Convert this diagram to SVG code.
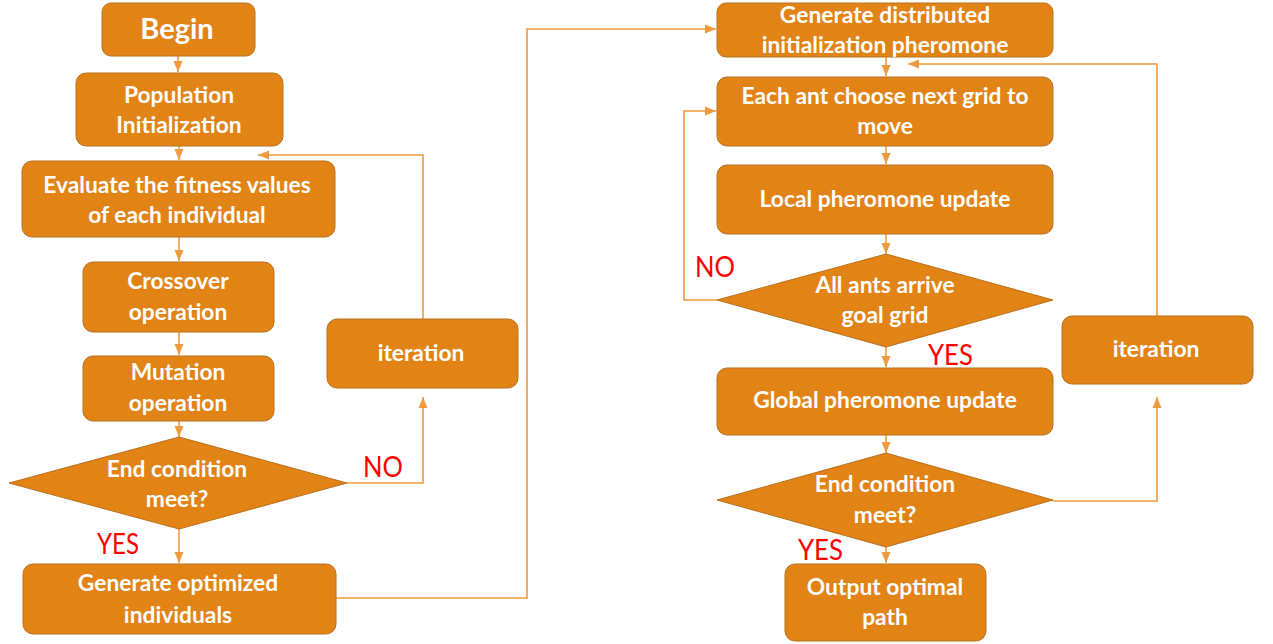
<svg xmlns="http://www.w3.org/2000/svg" width="1273" height="644" viewBox="0 0 1273 644">
  <style>
    .box { fill: #E28316; stroke: #B8701C; stroke-width: 1; }
    .lbl { font-family: Lato, "Open Sans", sans-serif; font-weight: bold; font-size: 22.8px; fill: #FFFFFF; text-anchor: middle; }
    .big { font-size: 29px; }
    .tag { font-family: Lato, "Liberation Sans", sans-serif; font-size: 29px; fill: #FF0000; }
    .wire { fill: none; stroke: #EE9A3E; stroke-width: 1.6; }
  </style>
  <defs>
    <marker id="arrow" markerUnits="userSpaceOnUse" markerWidth="12" markerHeight="12" viewBox="0 0 12 12" refX="11" refY="6" orient="auto">
      <path d="M0,1.5 L11,6 L0,10.5 Z" fill="#EE9A3E"/>
    </marker>
  </defs>
  <rect width="1273" height="644" fill="#FFFFFF"/>

  <!-- connectors -->
  <g id="connectors" class="wire">
    <path d="M178,56 V72" marker-end="url(#arrow)"/>
    <path d="M179,146 V160" marker-end="url(#arrow)"/>
    <path d="M179,237 V261" marker-end="url(#arrow)"/>
    <path d="M179,332 V355" marker-end="url(#arrow)"/>
    <path d="M179,421 V437" marker-end="url(#arrow)"/>
    <path d="M179,529 V563" marker-end="url(#arrow)"/>
    <path d="M347,483 H423 V397" marker-end="url(#arrow)"/>
    <path d="M423,319 V155 H258" marker-end="url(#arrow)"/>
    <path d="M336,598 H527 V29 H716" marker-end="url(#arrow)"/>
    <path d="M886,57 V76" marker-end="url(#arrow)"/>
    <path d="M886,146 V164" marker-end="url(#arrow)"/>
    <path d="M886,234 V254" marker-end="url(#arrow)"/>
    <path d="M717,300 H684 V111 H716" marker-end="url(#arrow)"/>
    <path d="M886,347 V367" marker-end="url(#arrow)"/>
    <path d="M886,435 V453" marker-end="url(#arrow)"/>
    <path d="M886,547 V563" marker-end="url(#arrow)"/>
    <path d="M1053,501 H1157 V397" marker-end="url(#arrow)"/>
    <path d="M1157,316 V64 H908" marker-end="url(#arrow)"/>
  </g>

  <!-- genetic algorithm stage -->
  <g id="begin">
    <rect class="box" x="102" y="3" width="153" height="53" rx="9"/>
    <text class="lbl big" x="177" y="39">Begin</text>
  </g>
  <g id="population">
    <rect class="box" x="76" y="73" width="207" height="73" rx="10"/>
    <text class="lbl" x="179" y="103">Population</text>
    <text class="lbl" x="179" y="133">Initialization</text>
  </g>
  <g id="evaluate">
    <rect class="box" x="22" y="161" width="313" height="76" rx="10"/>
    <text class="lbl" x="177" y="193">Evaluate the fitness values</text>
    <text class="lbl" x="177" y="223">of each individual</text>
  </g>
  <g id="crossover">
    <rect class="box" x="83" y="262" width="191" height="70" rx="10"/>
    <text class="lbl" x="178" y="289">Crossover</text>
    <text class="lbl" x="178" y="320">operation</text>
  </g>
  <g id="mutation">
    <rect class="box" x="83" y="356" width="191" height="65" rx="10"/>
    <text class="lbl" x="178" y="380">Mutation</text>
    <text class="lbl" x="178" y="411">operation</text>
  </g>
  <g id="ga-end">
    <polygon class="box" points="179,437 347,483 179,529 9,483"/>
    <text class="lbl" x="177" y="477">End condition</text>
    <text class="lbl" x="177" y="507">meet?</text>
  </g>
  <g id="ga-iteration">
    <rect class="box" x="327" y="319" width="191" height="69" rx="10"/>
    <text class="lbl" x="421" y="361">iteration</text>
  </g>
  <g id="optimized">
    <rect class="box" x="23" y="564" width="313" height="70" rx="10"/>
    <text class="lbl" x="178" y="591">Generate optimized</text>
    <text class="lbl" x="178" y="623">individuals</text>
  </g>

  <!-- ant colony stage -->
  <g id="init-pheromone">
    <rect class="box" x="717" y="3" width="336" height="54" rx="9"/>
    <text class="lbl" x="885" y="23">Generate distributed</text>
    <text class="lbl" x="885" y="53">initialization pheromone</text>
  </g>
  <g id="choose-grid">
    <rect class="box" x="717" y="77" width="336" height="69" rx="10"/>
    <text class="lbl" x="885" y="104">Each ant choose next grid to</text>
    <text class="lbl" x="885" y="134">move</text>
  </g>
  <g id="local-update">
    <rect class="box" x="717" y="165" width="336" height="69" rx="10"/>
    <text class="lbl" x="885" y="207">Local pheromone update</text>
  </g>
  <g id="ants-arrive">
    <polygon class="box" points="886,254 1053,300 886,347 717,300"/>
    <text class="lbl" x="885" y="293">All ants arrive</text>
    <text class="lbl" x="885" y="323">goal grid</text>
  </g>
  <g id="global-update">
    <rect class="box" x="717" y="368" width="336" height="67" rx="10"/>
    <text class="lbl" x="885" y="408">Global pheromone update</text>
  </g>
  <g id="aco-end">
    <polygon class="box" points="886,453 1053,500 886,547 717,500"/>
    <text class="lbl" x="885" y="492">End condition</text>
    <text class="lbl" x="885" y="523">meet?</text>
  </g>
  <g id="aco-iteration">
    <rect class="box" x="1062" y="316" width="191" height="68" rx="10"/>
    <text class="lbl" x="1156" y="357">iteration</text>
  </g>
  <g id="output">
    <rect class="box" x="785" y="564" width="201" height="77" rx="10"/>
    <text class="lbl" x="885" y="595">Output optimal</text>
    <text class="lbl" x="885" y="625">path</text>
  </g>

  <!-- branch labels -->
  <g id="branch-labels">
    <text class="tag" x="363" y="477" textLength="40" lengthAdjust="spacingAndGlyphs">NO</text>
    <text class="tag" x="97" y="554" textLength="42" lengthAdjust="spacingAndGlyphs">YES</text>
    <text class="tag" x="695" y="277" textLength="40" lengthAdjust="spacingAndGlyphs">NO</text>
    <text class="tag" x="928" y="365" textLength="45" lengthAdjust="spacingAndGlyphs">YES</text>
    <text class="tag" x="798" y="560" textLength="45" lengthAdjust="spacingAndGlyphs">YES</text>
  </g>
</svg>
